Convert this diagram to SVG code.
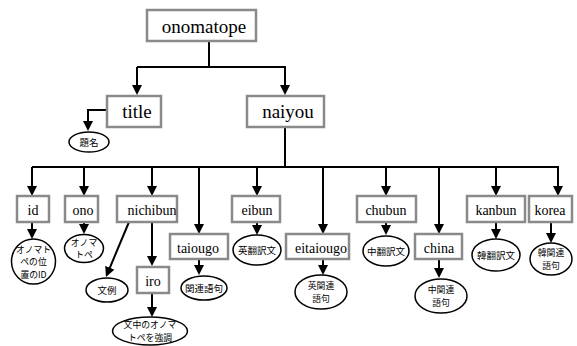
<svg xmlns="http://www.w3.org/2000/svg" width="577" height="346" viewBox="0 0 577 346">
<style>
.box{fill:#fff;stroke:#8a8a8a;stroke-width:2.5}
.ell{fill:#fff;stroke:#000;stroke-width:1.5}
.big{font-family:"Liberation Serif","Times New Roman",serif;font-size:19px;fill:#000;text-anchor:middle}
.lbl{font-family:"Liberation Serif","Times New Roman",serif;font-size:14px;fill:#000;text-anchor:middle}
.jp{font-family:"Noto Sans CJK JP","Noto Sans CJK SC",sans-serif;font-size:9.5px;fill:#000;text-anchor:middle}
.jp2{font-family:"Noto Sans CJK JP","Noto Sans CJK SC",sans-serif;font-size:8.8px;fill:#000;text-anchor:middle}
.ln{fill:none;stroke:#000;stroke-width:2}
.ar{fill:none;stroke:#000;stroke-width:2;marker-end:url(#ah)}
</style>
<defs>
<marker id="ah" markerUnits="userSpaceOnUse" markerWidth="10" markerHeight="10" refX="6" refY="5" orient="auto">
<path d="M0,0 L10,5 L0,10 z" fill="#000"/>
</marker>
</defs>
<rect width="577" height="346" fill="#fff"/>
<g id="connectors">
<path class="ln" d="M209,42 V67 H137"/>
<path class="ar" d="M137,67 V91"/>
<path class="ar" d="M209,67 H285 V91"/>
<path class="ar" d="M107,110 H88 V127"/>
<path class="ln" d="M285,127 V167"/>
<path class="ln" d="M32,167 H559"/>
<path class="ar" d="M32,167 V192"/>
<path class="ar" d="M84,167 V192"/>
<path class="ar" d="M152,167 V192"/>
<path class="ar" d="M199,167 V230"/>
<path class="ar" d="M257,167 V192"/>
<path class="ar" d="M323,167 V230"/>
<path class="ar" d="M386,167 V192"/>
<path class="ar" d="M439,167 V230"/>
<path class="ar" d="M496,167 V192"/>
<path class="ar" d="M558,167 V192"/>
<path class="ar" d="M32,222 V235"/>
<path class="ar" d="M84,222 V230"/>
<path class="ar" d="M129,222 L107.5,273.3"/>
<path class="ar" d="M152,222 V262"/>
<path class="ar" d="M152,293 V313"/>
<path class="ar" d="M199,259 V271"/>
<path class="ar" d="M257,222 V231"/>
<path class="ar" d="M323,259 V271"/>
<path class="ar" d="M386,222 V231"/>
<path class="ar" d="M439,259 V274"/>
<path class="ar" d="M496,222 V235"/>
<path class="ar" d="M551,222 V239"/>
</g>
<g id="onomatope"><rect class="box" x="147" y="10" width="109" height="31"/><text class="big" x="204" y="33">onomatope</text></g>
<g id="title"><rect class="box" x="107" y="96" width="54" height="31"/><text class="big" x="137" y="118">title</text></g>
<g id="naiyou"><rect class="box" x="247" y="96" width="77" height="31"/><text class="big" x="288" y="118">naiyou</text></g>
<g id="daimei"><ellipse class="ell" cx="89" cy="142" rx="20" ry="10"/><text class="jp" x="89" y="145.5">題名</text></g>
<g id="id"><rect class="box" x="17" y="196" width="32" height="26"/><text class="lbl" x="33" y="215">id</text></g>
<g id="id-desc"><ellipse class="ell" cx="33.5" cy="261.5" rx="22" ry="22.5"/><text class="jp2" x="33.5" y="252.5">オノマト<tspan x="33.5" dy="12.5">ペの位</tspan><tspan x="33.5" dy="12.5">置のID</tspan></text></g>
<g id="ono"><rect class="box" x="65" y="196" width="33" height="26"/><text class="lbl" x="83" y="215">ono</text></g>
<g id="ono-desc"><ellipse class="ell" cx="84" cy="248.5" rx="19.5" ry="14"/><text class="jp2" x="84" y="245.5">オノマ<tspan x="84" dy="12.5">トペ</tspan></text></g>
<g id="nichibun"><rect class="box" x="117" y="196" width="60" height="26"/><text class="lbl" x="152" y="215">nichibun</text></g>
<g id="bunrei"><ellipse class="ell" cx="107" cy="290" rx="21" ry="12"/><text class="jp" x="107" y="293.5">文例</text></g>
<g id="iro"><rect class="box" x="137" y="267" width="32" height="26"/><text class="lbl" x="153" y="286">iro</text></g>
<g id="iro-desc"><ellipse class="ell" cx="150" cy="331" rx="37.5" ry="14"/><text class="jp2" x="150" y="327.5">文中のオノマ<tspan x="150" dy="13">トペを強調</tspan></text></g>
<g id="taiougo"><rect class="box" x="170" y="234" width="58" height="25"/><text class="lbl" x="198" y="253">taiougo</text></g>
<g id="kanren"><ellipse class="ell" cx="204" cy="288" rx="23" ry="12"/><text class="jp" x="204" y="291.5">関連語句</text></g>
<g id="eibun"><rect class="box" x="232" y="196" width="48" height="26"/><text class="lbl" x="257" y="215">eibun</text></g>
<g id="eibun-desc"><ellipse class="ell" cx="257" cy="250" rx="24" ry="15"/><text class="jp" x="257" y="253.5">英翻訳文</text></g>
<g id="eitaiougo"><rect class="box" x="286" y="234" width="63" height="25"/><text class="lbl" x="321" y="253">eitaiougo</text></g>
<g id="eitaiougo-desc"><ellipse class="ell" cx="321" cy="292" rx="26" ry="17"/><text class="jp2" x="321" y="289">英関連<tspan x="321" dy="12.5">語句</tspan></text></g>
<g id="chubun"><rect class="box" x="357" y="196" width="59" height="26"/><text class="lbl" x="386" y="215">chubun</text></g>
<g id="chubun-desc"><ellipse class="ell" cx="386" cy="251" rx="23" ry="15"/><text class="jp" x="386" y="254.5">中翻訳文</text></g>
<g id="china"><rect class="box" x="415" y="234" width="47" height="25"/><text class="lbl" x="439" y="253">china</text></g>
<g id="china-desc"><ellipse class="ell" cx="441" cy="296" rx="26" ry="17"/><text class="jp2" x="441" y="293">中関連<tspan x="441" dy="12.5">語句</tspan></text></g>
<g id="kanbun"><rect class="box" x="467" y="196" width="58" height="26"/><text class="lbl" x="496" y="215">kanbun</text></g>
<g id="kanbun-desc"><ellipse class="ell" cx="496" cy="255" rx="24" ry="16"/><text class="jp" x="496" y="258.5">韓翻訳文</text></g>
<g id="korea"><rect class="box" x="529" y="196" width="43" height="26"/><text class="lbl" x="550" y="215">korea</text></g>
<g id="korea-desc"><ellipse class="ell" cx="551" cy="259" rx="21" ry="16"/><text class="jp2" x="551" y="256">韓関連<tspan x="551" dy="12.5">語句</tspan></text></g>
</svg>
